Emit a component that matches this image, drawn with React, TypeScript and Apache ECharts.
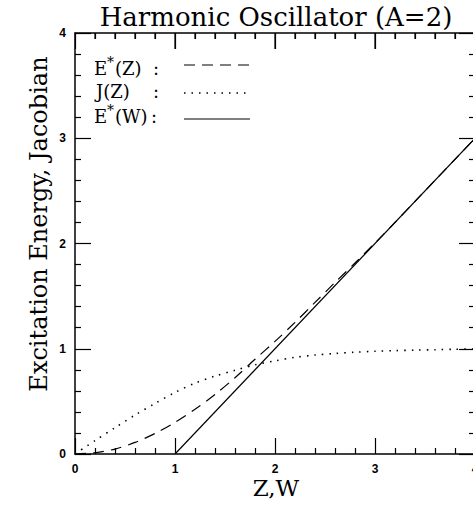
import React, { useEffect, useRef } from 'react';
import * as echarts from 'echarts';

// Z (and W) sample points
const zValues = [0, 0.2, 0.4, 0.6, 0.8, 1.0, 1.2, 1.4, 1.6, 1.8, 2.0, 2.2, 2.4, 2.6, 2.8, 3.0, 3.2, 3.4, 3.6, 3.8, 4.0];
// E*(Z) dashed curve
const eStarZ = [0, 0.012, 0.047, 0.11, 0.195, 0.3, 0.425, 0.565, 0.725, 0.9, 1.07, 1.25, 1.44, 1.63, 1.815, 2.005, 2.2, 2.4, 2.6, 2.8, 3.0];
// J(Z) dotted curve
const jacobianZ = [0, 0.127, 0.25, 0.37, 0.48, 0.585, 0.673, 0.74, 0.795, 0.847, 0.885, 0.918, 0.94, 0.955, 0.967, 0.976, 0.982, 0.987, 0.991, 0.995, 0.998];
// E*(W) solid line
const wValues = [1, 4];
const eStarW = [0, 3];
// tick positions of the top frame edge (major every 1, minor every 0.2)
const topTickValues = [0.2, 0.4, 0.6, 0.8, 1, 1.2, 1.4, 1.6, 1.8, 2, 2.2, 2.4, 2.6, 2.8, 3, 3.2, 3.4, 3.6, 3.8];
const AXIS_MAX = 4;

const SERIF = '"DejaVu Serif", "Liberation Serif", serif';

export default function App() {
  const ref = useRef<HTMLDivElement>(null);
  useEffect(() => {
    const chart = echarts.init(ref.current!, null, { renderer: 'svg' });
    const axisBase = (showLabel: boolean) => ({
      type: 'value',
      min: 0,
      max: AXIS_MAX,
      interval: 1,
      axisLine: { show: true, onZero: false, lineStyle: { color: '#000', width: 1.5, opacity: 1 } },
      axisTick: { show: true, inside: true, length: 16, lineStyle: { color: '#000', width: 1.2, opacity: 1 } },
      minorTick: { show: true, splitNumber: 5, length: 6, lineStyle: { color: '#000', width: 1.2, opacity: 1 } },
      splitLine: { show: false },
      axisLabel: {
        show: showLabel,
        color: '#000',
        fontFamily: '"Liberation Sans", Arial, sans-serif',
        fontWeight: 'bold',
        fontSize: 12,
        margin: 9,
      },
    });
    const legendText = (text: string, x: number, y: number, size = 18) => ({
      type: 'text',
      x,
      y,
      style: {
        text,
        font: `${size}px ${SERIF}`,
        fill: '#000',
        align: 'left',
        verticalAlign: 'middle',
        textAlign: 'left',
        textVerticalAlign: 'middle',
      },
    });
    chart.setOption({
      animation: false,
      grid: { left: 75, top: 33, width: 400, height: 421, outerBoundsMode: 'none', containLabel: false },
      xAxis: [
        { ...axisBase(true), position: 'bottom' },
        { ...axisBase(false), position: 'top' },
      ],
      yAxis: [
        { ...axisBase(true), position: 'left' },
        { ...axisBase(false), position: 'right' },
      ],
      series: [
        {
          name: 'E*(Z)',
          type: 'line',
          data: zValues.map((z, i) => [z, eStarZ[i]]),
          smooth: 0.3,
          showSymbol: false,
          lineStyle: { color: '#000', width: 1.2, type: [11, 7] },
        },
        {
          name: 'J(Z)',
          type: 'line',
          data: zValues.map((z, i) => [z, jacobianZ[i]]),
          smooth: 0.3,
          showSymbol: false,
          lineStyle: { color: '#000', width: 1.6, type: [1.5, 6] },
        },
        {
          name: 'E*(W)',
          type: 'line',
          data: wValues.map((w, i) => [w, eStarW[i]]),
          showSymbol: false,
          lineStyle: { color: '#000', width: 1.2, type: 'solid' },
        },
        {
          name: 'topTicks',
          type: 'custom',
          silent: true,
          clip: false,
          data: topTickValues.map((v) => [v, AXIS_MAX]),
          renderItem: (params: any, api: any) => {
            const v = api.value(0);
            const p = api.coord([v, AXIS_MAX]);
            const major = Math.abs(v - Math.round(v)) < 1e-6;
            return {
              type: 'line',
              shape: { x1: p[0], y1: p[1], x2: p[0], y2: p[1] + (major ? 16 : 6) },
              style: { stroke: '#000', lineWidth: 1.2 },
            };
          },
        },
      ],
      graphic: [
        {
          type: 'text',
          x: 276,
          y: 17,
          style: {
            text: 'Harmonic Oscillator (A=2)',
            font: `26px ${SERIF}`,
            fill: '#000',
            align: 'center',
            verticalAlign: 'middle',
            textAlign: 'center',
            textVerticalAlign: 'middle',
          },
        },
        {
          type: 'text',
          x: 39,
          y: 224,
          rotation: Math.PI / 2,
          style: {
            text: 'Excitation Energy, Jacobian',
            font: `24px ${SERIF}`,
            fill: '#000',
            align: 'center',
            verticalAlign: 'middle',
            textAlign: 'center',
            textVerticalAlign: 'middle',
          },
        },
        {
          type: 'text',
          x: 276,
          y: 488,
          style: {
            text: 'Z,W',
            font: `23px ${SERIF}`,
            lineHeight: 18,
            fill: '#000',
            align: 'center',
            verticalAlign: 'middle',
            textAlign: 'center',
            textVerticalAlign: 'middle',
          },
        },
        legendText('E', 94, 68),
        legendText('*', 107, 62, 14),
        legendText('(Z)', 115, 68),
        legendText(':', 153, 68),
        legendText('J(Z)', 96, 91),
        legendText(':', 153, 91),
        legendText('E', 94, 116),
        legendText('*', 107, 110, 14),
        legendText('(W)', 115, 116),
        legendText(':', 151, 116),
        { type: 'line', shape: { x1: 184, y1: 65, x2: 250, y2: 65 }, style: { stroke: '#000', lineWidth: 1.2, lineDash: [11, 7] } },
        { type: 'line', shape: { x1: 184, y1: 93, x2: 250, y2: 93 }, style: { stroke: '#000', lineWidth: 1.6, lineDash: [1.5, 6] } },
        { type: 'line', shape: { x1: 184, y1: 119, x2: 250, y2: 119 }, style: { stroke: '#000', lineWidth: 1.2 } },
      ],
    });
    return () => chart.dispose();
  }, []);
  return <div ref={ref} style={{ position: 'absolute', left: 0, top: 0, width: 473, height: 508 }} />;
}
